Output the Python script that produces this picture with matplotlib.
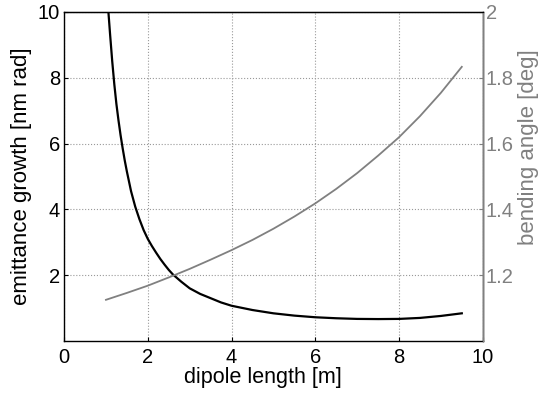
import matplotlib
matplotlib.use("Agg")
import matplotlib.pyplot as plt
import numpy as np

plt.rcParams['font.family'] = ['Liberation Sans', 'DejaVu Sans']

# dipole length [m]
L = [1.0, 1.05, 1.1, 1.15, 1.2, 1.25, 1.3, 1.35, 1.4, 1.45, 1.5, 1.6, 1.7, 1.8,
     1.9, 2.0, 2.1, 2.2, 2.3, 2.4, 2.5, 2.6, 2.8, 3.0, 3.25, 3.5, 3.75, 4.0,
     4.5, 5.0, 5.5, 6.0, 6.5, 7.0, 7.5, 8.0, 8.5, 9.0, 9.5]
# emittance growth [nm rad]
emit = [11.2, 10.15, 9.3, 8.5, 7.8, 7.2, 6.7, 6.25, 5.85, 5.48, 5.15, 4.55, 4.08, 3.7,
        3.37, 3.1, 2.88, 2.68, 2.49, 2.32, 2.16, 2.02, 1.8, 1.6, 1.43, 1.3, 1.17, 1.07,
        0.94, 0.84, 0.77, 0.72, 0.69, 0.67, 0.665, 0.67, 0.70, 0.76, 0.84]
# bending angle [deg]
Lb = [1.0, 1.5, 2.0, 2.5, 3.0, 3.5, 4.0, 4.5, 5.0, 5.5, 6.0, 6.5, 7.0, 7.5,
      8.0, 8.5, 9.0, 9.5]
angle = [1.125, 1.146, 1.168, 1.193, 1.219, 1.247, 1.276, 1.307, 1.341, 1.378,
         1.418, 1.462, 1.51, 1.563, 1.619, 1.683, 1.754, 1.833]

xticks = [0, 2, 4, 6, 8, 10]
yticks_left = [2, 4, 6, 8, 10]
yticks_right = [1.2, 1.4, 1.6, 1.8, 2.0]
ylabels_right = ["1.2", "1.4", "1.6", "1.8", "2"]

grey = (0.5, 0.5, 0.5)

fig = plt.figure(figsize=(5.43, 3.96), dpi=100)
ax = fig.add_axes([0.118, 0.139, 0.771, 0.831])
ax.plot(L, emit, color="black", lw=1.6)
ax.set_xlim(0, 10)
ax.set_ylim(0, 10)
ax.set_xticks(xticks)
ax.set_yticks(yticks_left)
ax.tick_params(direction="in", labelsize=14.5, length=3, pad=3)
ax.tick_params(axis="x", pad=5)
ax.set_xlabel("dipole length [m]", fontsize=15.5)
ax.xaxis.set_label_coords(0.475, -0.078)
ax.set_ylabel("emittance growth [nm rad]", fontsize=16)
ax.yaxis.set_label_coords(-0.076, 0.5)
ax.grid(True, linestyle=":", color=(0.6, 0.6, 0.6), lw=0.8)
for s in ax.spines.values():
    s.set_linewidth(1.0)

ax2 = ax.twinx()
ax2.plot(Lb, angle, color=grey, lw=1.3)
ax2.set_ylim(1.0, 2.0)
ax2.set_yticks(yticks_right)
ax2.set_yticklabels(ylabels_right)
ax2.tick_params(direction="in", labelsize=14.5, length=3, colors=grey, pad=2)
ax2.set_ylabel("bending angle [deg]", fontsize=16, color=grey)
ax2.yaxis.set_label_coords(1.084, 0.588)
ax2.spines["right"].set_color(grey)
ax2.spines["right"].set_linewidth(1.0)
ax2.spines["left"].set_visible(False)
ax2.spines["bottom"].set_visible(False)

fig.savefig("out.png", dpi=100)
